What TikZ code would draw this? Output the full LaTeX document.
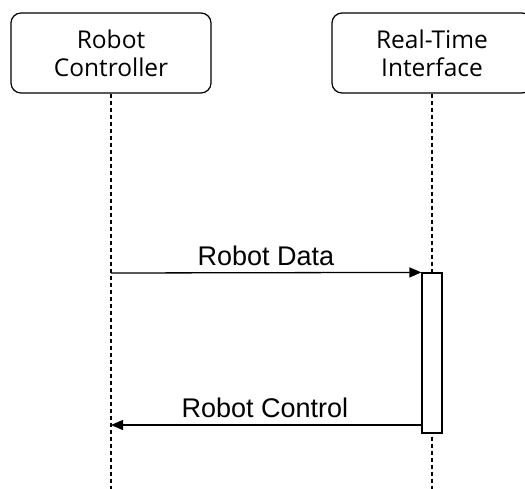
\documentclass[tikz,border=0pt]{standalone}
\usepackage{fontspec}
\setmainfont{Open Sans}
\newfontfamily\arialfont{Liberation Sans}
\usetikzlibrary{arrows.meta}
\begin{document}
\begin{tikzpicture}[x=1pt,y=-1pt,
  actor/.style={draw, line width=1.2pt, rounded corners=10pt, minimum width=200pt, minimum height=80pt, align=center, font=\fontsize{24.5}{28}\selectfont, inner sep=0pt},
  life/.style={line width=1.2pt, dash pattern=on 4pt off 3pt},
  actbox/.style={draw, fill=white, line width=1.2pt, minimum width=20pt, minimum height=160pt, inner sep=0pt},
  msg/.style={line width=1.3pt, -{Triangle[length=12pt,width=10pt]}},
  lbl/.style={font=\arialfont\fontsize{27}{30}\selectfont, inner sep=0pt}
]
\useasboundingbox (0,0) rectangle (525,488);
\clip (0,0) rectangle (525,488);
\node[actor] (rc) at (111,53) {Robot\\Controller};
\node[actor] (rti) at (432,53) {Real-Time\\Interface};
\coordinate (rcend) at (111,490);
\coordinate (rtiend) at (432,490);
\draw[life] (rc.south) -- (rcend);
\draw[life] (rti.south) -- (rtiend);
\node[actbox] (act) at (432,353) {};
\coordinate (d1) at (111,273);
\coordinate (c1) at (111,425);
\draw[msg] (d1) -- (act.north west);
\draw[msg] (act.west |- c1) -- (c1);
\node[lbl] (ldata) at (266,256) {Robot Data};
\node[lbl] (lctrl) at (265,408) {Robot Control};
\end{tikzpicture}
\end{document}
